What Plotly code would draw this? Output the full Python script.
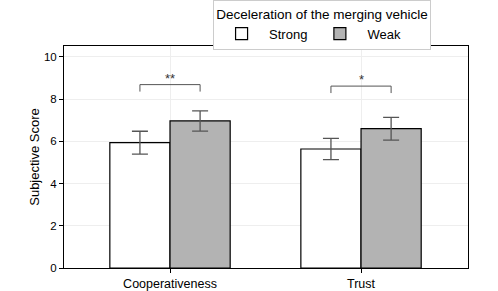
import plotly.graph_objects as go

categories = ["Cooperativeness", "Trust"]
strong_mean = [5.94, 5.64]
strong_err = [0.54, 0.50]
weak_mean = [6.97, 6.60]
weak_err = [0.48, 0.54]
sig_labels = ["**", "*"]
sig_heights = [8.69, 8.62]
sig_drop = 0.33

W = 0.315
xs = [i - W / 2 for i in range(len(categories))]
xw = [i + W / 2 for i in range(len(categories))]

fig = go.Figure()
fig.add_trace(go.Bar(
    x=xs, y=strong_mean, width=W, name="Strong",
    marker=dict(color="white", line=dict(color="black", width=1.2)),
    error_y=dict(type="data", array=strong_err, color="#555555", thickness=1.3, width=8),
))
fig.add_trace(go.Bar(
    x=xw, y=weak_mean, width=W, name="Weak",
    marker=dict(color="#b3b3b3", line=dict(color="black", width=1.2)),
    error_y=dict(type="data", array=weak_err, color="#555555", thickness=1.3, width=8),
))

for i in range(len(categories)):
    h = sig_heights[i]
    fig.add_trace(go.Scatter(
        x=[xs[i], xs[i], xw[i], xw[i]], y=[h - sig_drop, h, h, h - sig_drop],
        mode="lines", line=dict(color="#555555", width=1), showlegend=False, hoverinfo="skip",
    ))
    fig.add_annotation(x=i, y=h, text=sig_labels[i], showarrow=False, yanchor="bottom",
                       yshift=-3, font=dict(size=13, color="#333333"))

fig.update_layout(
    width=498, height=291,
    margin=dict(l=64, r=30, t=46, b=23, autoexpand=False),
    plot_bgcolor="white", paper_bgcolor="white",
    font=dict(family="Liberation Sans, Arial, sans-serif", size=12, color="black"),
    barmode="overlay",
    legend=dict(
        orientation="h", x=0.369, xanchor="left", y=1.207, yanchor="top",
        title=dict(text="Deceleration of the merging vehicle", side="top center", font=dict(size=13.5)),
        bordercolor="#cccccc", borderwidth=1, font=dict(size=13),
        itemwidth=45, tracegroupgap=0,
    ),
    xaxis=dict(
        range=[-0.555, 0.56 + 1], tickvals=list(range(len(categories))), ticktext=categories,
        showgrid=True, gridcolor="#eeeeee", gridwidth=1, zeroline=False,
        showline=True, linecolor="black", linewidth=1, mirror=True,
        ticks="outside", ticklen=4, tickcolor="black", tickfont=dict(size=12.5),
    ),
    yaxis=dict(
        range=[0, 10.52], tickvals=[0, 2, 4, 6, 8, 10],
        showgrid=True, gridcolor="#eeeeee", gridwidth=1, zeroline=False,
        showline=True, linecolor="black", linewidth=1, mirror=True,
        ticks="outside", ticklen=4, tickcolor="black", tickfont=dict(size=11.5),
        title=dict(text="Subjective Score", font=dict(size=13), standoff=1),
    ),
)

fig.write_html("out.html", config={"displayModeBar": False},
               post_script="document.body.style.margin='0';")
